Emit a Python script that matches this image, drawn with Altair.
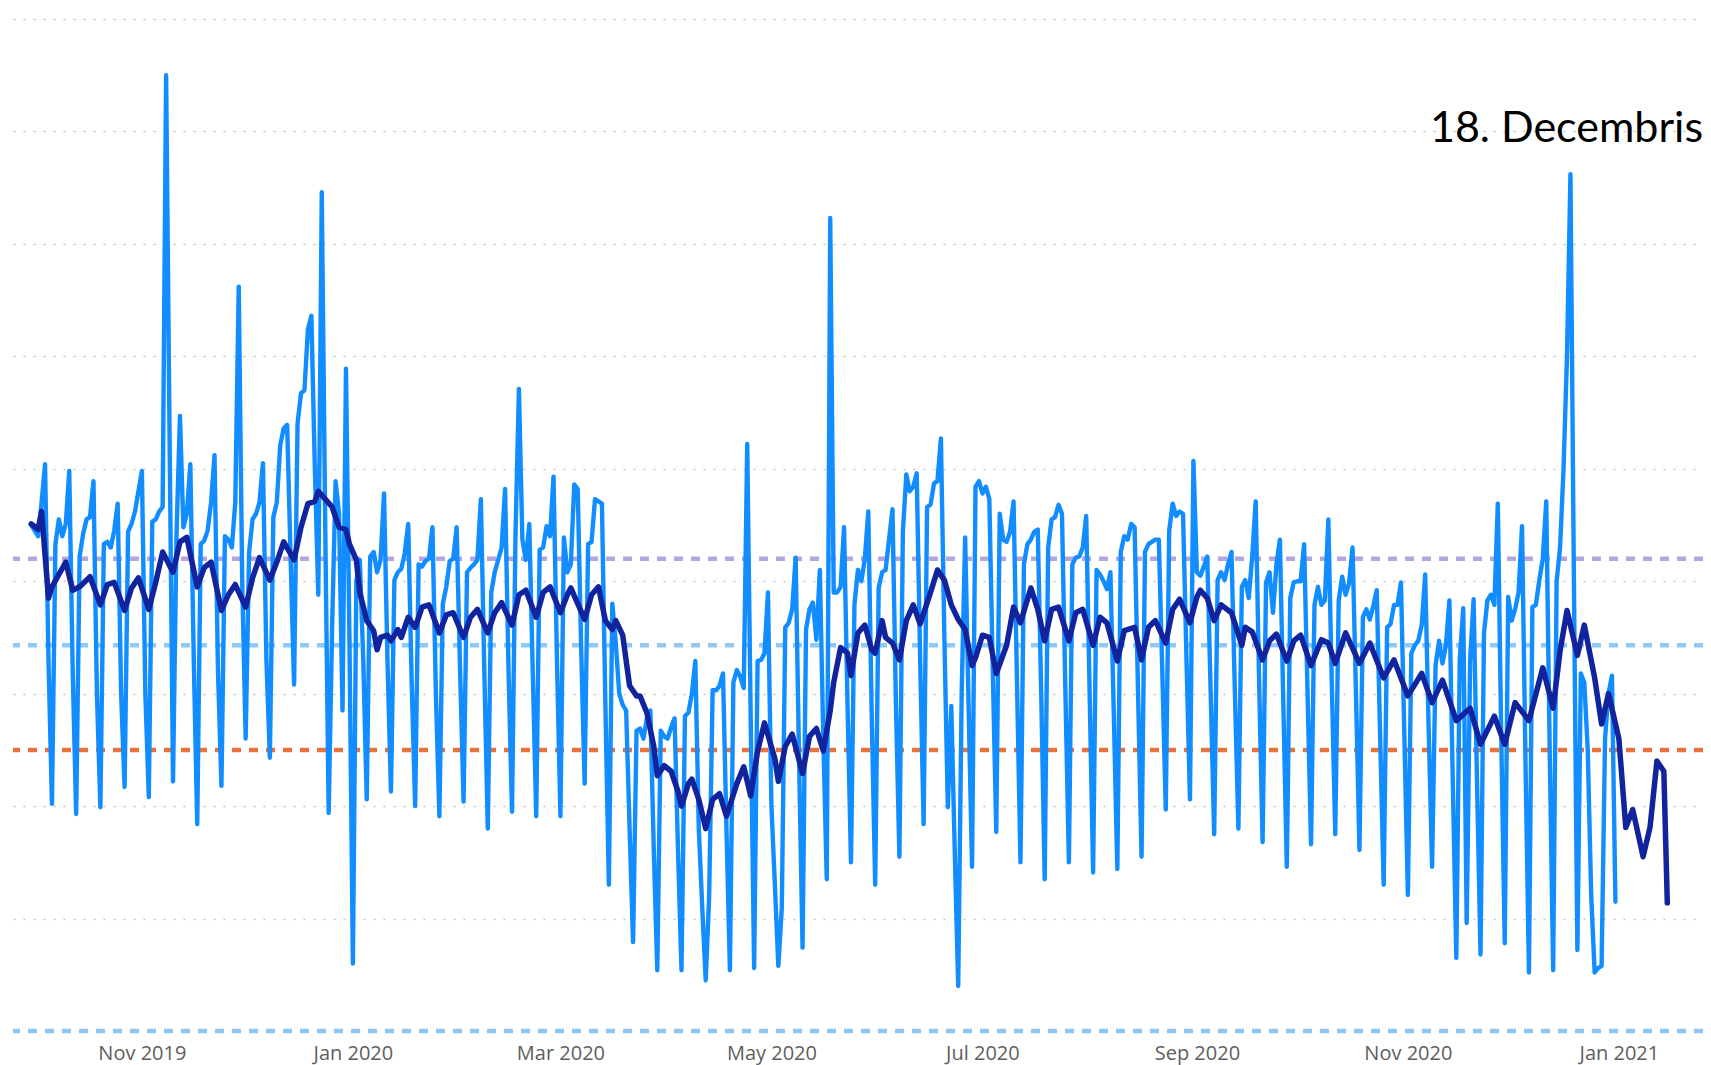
import altair as alt
import pandas as pd

# ---------------- data ----------------
start_date = "2019-09-30"  # Monday; one value per day (Mon..Sun rows)

daily_values = [
    450, 445, 440, 470, 504, 330, 202,
    433, 455, 440, 451, 498, 320, 193,
    422, 442, 455, 457, 489, 300, 199,
    433, 435, 430, 445, 469, 300, 217,
    444, 451, 462, 480, 498, 300, 208,
    453, 455, 462, 466, 850, 530, 222,
    440, 547, 448, 460, 504, 330, 184,
    433, 436, 445, 470, 512, 320, 218,
    440, 437, 430, 470, 662, 400, 260,
    426, 455, 460, 470, 505, 330, 243,
    457, 470, 521, 536, 539, 420, 308,
    540, 567, 570, 624, 636, 500, 388,
    746, 450, 194, 360, 489, 460, 285,
    589, 350, 60, 400, 419, 330, 206,
    422, 426, 408, 419, 478, 330, 213,
    401, 408, 411, 425, 451, 310, 200,
    415, 413, 418, 420, 448, 300, 191,
    380, 395, 418, 420, 448, 320, 204,
    408, 412, 415, 419, 473, 320, 180,
    390, 408, 419, 430, 482, 320, 195,
    440, 571, 437, 419, 451, 320, 191,
    428, 430, 449, 440, 493, 330, 191,
    439, 408, 415, 486, 482, 340, 220,
    433, 435, 473, 471, 469, 290, 130,
    380, 345, 300, 290, 285, 180, 79,
    267, 269, 260, 278, 285, 160, 54,
    267, 262, 260, 270, 278, 160, 54,
    280, 283, 300, 329, 180, 110, 45,
    120, 303, 303, 307, 318, 180, 54,
    310, 321, 315, 305, 522, 280, 56,
    329, 330, 336, 390, 200, 130, 58,
    110, 359, 363, 375, 421, 240, 74,
    357, 375, 381, 348, 410, 260, 135,
    723, 390, 390, 395, 448, 290, 150,
    379, 410, 400, 420, 462, 280, 130,
    394, 408, 410, 437, 464, 290, 155,
    444, 495, 480, 484, 496, 330, 184,
    466, 468, 487, 489, 527, 350, 199,
    289, 160, 40, 300, 439, 290, 146,
    484, 489, 478, 484, 473, 320, 177,
    460, 437, 435, 444, 471, 310, 150,
    415, 433, 437, 444, 446, 300, 135,
    430, 455, 457, 468, 460, 300, 150,
    415, 421, 422, 430, 458, 300, 141,
    410, 406, 400, 393, 408, 280, 144,
    426, 440, 437, 451, 448, 300, 155,
    426, 433, 435, 437, 437, 320, 197,
    445, 469, 458, 462, 460, 330, 206,
    507, 408, 405, 413, 422, 300, 175,
    401, 408, 401, 415, 426, 300, 180,
    395, 401, 385, 422, 471, 310, 168,
    399, 408, 372, 415, 437, 290, 146,
    385, 399, 400, 400, 433, 300, 166,
    379, 395, 379, 383, 455, 310, 175,
    383, 404, 388, 398, 430, 300, 161,
    368, 375, 366, 378, 392, 260, 130,
    359, 362, 379, 379, 399, 260, 121,
    336, 343, 347, 361, 406, 270, 146,
    325, 347, 327, 343, 383, 220, 65,
    330, 376, 96, 330, 384, 220, 68,
    354, 383, 388, 379, 469, 260, 78,
    386, 365, 375, 390, 449, 240, 52,
    377, 379, 401, 420, 471, 250, 54,
    400, 430, 500, 600, 762, 400, 72,
    318, 310, 250, 120, 52, 56, 58,
    260, 300, 316, 115,
]

# moving-average line: day offset from start_date, value
ma_day = [
    0, 2, 3, 5, 6, 8, 10, 12, 14, 17, 20, 22, 24, 27, 29, 31, 34, 36, 38, 41,
    43, 45, 48, 50, 52, 55, 57, 59, 62, 64, 66, 69, 71, 73, 76, 78, 80, 82, 83, 85,
    87, 89, 91, 92, 94, 95, 97, 99, 100, 101, 103, 104, 106, 107, 109, 111, 113, 115, 118, 120,
    122, 125, 127, 129, 132, 134, 136, 139, 141, 143, 146, 148, 150, 153, 155, 156, 160, 162, 164, 166,
    168, 169, 171, 173, 175, 176, 178, 180, 181, 183, 185, 187, 188, 190, 191, 193, 195, 197, 199, 201,
    204, 206, 208, 210, 212, 215, 216, 218, 220, 223, 225, 227, 229, 231, 232, 234, 236, 237, 239, 241,
    243, 244, 246, 247, 249, 251, 253, 255, 257, 260, 262, 264, 266, 268, 270, 272, 273, 275, 277, 279,
    282, 284, 286, 289, 291, 293, 295, 297, 300, 302, 304, 307, 309, 311, 314, 316, 319, 321, 323, 325,
    328, 330, 332, 335, 337, 338, 340, 342, 344, 347, 350, 351, 353, 356, 358, 360, 363, 365, 367, 370,
    373, 375, 377, 380, 384, 387, 391, 394, 398, 402, 405, 408, 412, 416, 419, 423, 426, 429, 433, 437,
    440, 442, 444, 447, 449, 452, 454, 456, 459, 461, 463, 466, 468, 470, 472, 473,
]
ma_value = [
    451, 446, 462, 385, 395, 406, 417, 392, 395, 404, 379, 397, 399, 374, 394, 403, 375, 399, 426, 408,
    435, 439, 395, 412, 417, 374, 388, 397, 377, 403, 421, 401, 417, 435, 419, 448, 469, 471, 480, 473,
    466, 448, 446, 433, 419, 390, 365, 356, 339, 350, 352, 347, 357, 350, 368, 359, 377, 379, 354, 370,
    372, 350, 368, 375, 354, 372, 381, 361, 388, 392, 368, 390, 395, 372, 388, 394, 366, 388, 395, 365,
    357, 365, 352, 307, 298, 298, 283, 253, 227, 236, 231, 213, 200, 220, 224, 206, 180, 206, 211, 191,
    220, 235, 209, 249, 274, 242, 222, 253, 264, 229, 262, 269, 249, 285, 310, 341, 336, 316, 354, 361,
    339, 336, 365, 350, 345, 330, 365, 379, 362, 390, 410, 401, 379, 366, 357, 325, 332, 352, 350, 318,
    343, 377, 363, 394, 375, 347, 375, 377, 347, 372, 375, 343, 368, 363, 329, 356, 359, 330, 359, 365,
    345, 375, 384, 363, 386, 392, 385, 365, 379, 372, 343, 359, 355, 330, 347, 353, 329, 347, 352, 325,
    348, 345, 327, 354, 327, 345, 314, 330, 298, 318, 292, 312, 276, 287, 255, 280, 255, 292, 276, 323,
    287, 338, 374, 334, 361, 314, 273, 300, 260, 181, 197, 155, 181, 240, 231, 114,
]

ref_names = ["upper", "middle", "lower", "bottom"]
ref_values = [420, 343, 250, 0]
ref_colors = ["#B6A4DE", "#8FC9F8", "#E8743B", "#8CC6F7"]

tick_months = [(2019, 11), (2020, 1), (2020, 3), (2020, 5), (2020, 7), (2020, 9), (2020, 11), (2021, 1)]
grid_values = [100, 200, 300, 400, 500, 600, 700, 800, 900]

annotation_text = "18. Decembris"
annotation_value = 802

# ---------------- frames ----------------
t0 = pd.Timestamp(start_date)
daily = pd.DataFrame({
    "date": pd.date_range(t0, periods=len(daily_values), freq="D"),
    "value": daily_values,
})
ma = pd.DataFrame({
    "date": [t0 + pd.Timedelta(days=d) for d in ma_day],
    "value": ma_value,
})
refs = pd.DataFrame({"name": ref_names, "value": ref_values})
note = pd.DataFrame({
    "date": [pd.Timestamp("2021-01-25 07:40")],
    "value": [annotation_value],
    "label": [annotation_text],
})

# ---------------- scales / axes ----------------
x_scale = alt.Scale(domain=[
    alt.DateTime(year=2019, month=9, date=24, hours=17, minutes=42),
    alt.DateTime(year=2021, month=1, date=25, hours=7, minutes=40),
])
y_scale = alt.Scale(domain=[0, 900], nice=False, zero=True)

x_axis = alt.Axis(
    values=[alt.DateTime(year=y, month=m, date=1) for y, m in tick_months],
    format="%b %Y", labelFont="Open Sans", labelFontSize=20, labelColor="#605E5C",
    labelBaseline="middle", labelPadding=22, ticks=False, tickSize=0, domain=False,
    grid=False, title=None, labelOverlap=False, labelFlush=False,
)
y_axis = alt.Axis(
    values=grid_values, grid=True, gridDash=[2, 8], gridColor="#C8C6C4", gridWidth=1.6,
    labels=False, ticks=False, tickSize=0, domain=False, title=None,
)

X = alt.X("date:T", scale=x_scale, axis=x_axis)
Y = alt.Y("value:Q", scale=y_scale, axis=y_axis)

rules = alt.Chart(refs).mark_rule(strokeDash=[9, 8], strokeWidth=4.5).encode(
    y=Y,
    color=alt.Color("name:N", scale=alt.Scale(domain=ref_names, range=ref_colors), legend=None),
)

daily_line = alt.Chart(daily).mark_line(
    color="#118DFF", strokeWidth=4.4, strokeJoin="round", strokeCap="round"
).encode(x=X, y=Y)

ma_line = alt.Chart(ma).mark_line(
    color="#12239E", strokeWidth=5.5, strokeJoin="round", strokeCap="round"
).encode(x=X, y=Y)

text = alt.Chart(note).mark_text(
    align="right", baseline="middle", font="Lato", fontSize=43, color="#000000"
).encode(x=X, y=Y, text="label:N")

chart = alt.layer(rules, daily_line, ma_line, text).properties(
    width=1690,
    height=1012,
    padding={"left": 5, "top": 11, "right": 0, "bottom": 40},
    autosize=alt.AutoSizeParams(type="none"),
    background="#FFFFFF",
).configure_view(stroke=None)

chart.save("out.html", embed_options={"renderer": "svg", "actions": False})
